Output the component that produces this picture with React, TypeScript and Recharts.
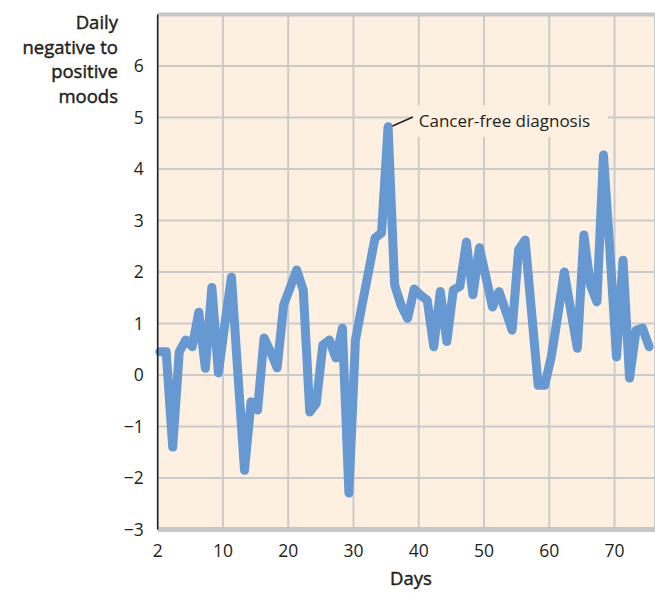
import { CartesianGrid, Line, LineChart, ReferenceArea, ReferenceDot, ReferenceLine, XAxis, YAxis } from "recharts";

// daily mood score, one value per day (index 0 = first day shown)
const MOODS = [
  0.45, 0.45, -1.4, 0.45, 0.68, 0.55, 1.22, 0.13, 1.7, 0.04,
  1.0, 1.9, 0.0, -1.85, -0.52, -0.68, 0.72, 0.45, 0.14, 1.36,
  1.7, 2.04, 1.65, -0.72, -0.55, 0.58, 0.68, 0.33, 0.91, -2.29,
  0.68, 1.35, 2.0, 2.66, 2.76, 4.82, 1.75, 1.35, 1.1, 1.67,
  1.55, 1.45, 0.55, 1.62, 0.65, 1.65, 1.72, 2.58, 1.56, 2.47,
  1.9, 1.32, 1.62, 1.25, 0.87, 2.43, 2.62, 1.2, -0.2, -0.2,
  0.35, 1.15, 2.0, 1.25, 0.52, 2.72, 1.75, 1.42, 4.27, 2.4,
  0.35, 2.23, -0.06, 0.87, 0.91, 0.55,
];

const X_TICKS = [-0.3, 9.7, 19.7, 29.7, 39.7, 49.7, 59.7, 69.7];
const X_LABELS = ["2", "10", "20", "30", "40", "50", "60", "70"];
const Y_TICKS = [-3, -2, -1, 0, 1, 2, 3, 4, 5, 6];

const FONT = "'Open Sans', sans-serif";
const INK = "#231f20";
const BG = "#fdf0e1";
const GRID = "#cbcbcb";

const data = MOODS.map((v, i) => ({ day: i, mood: v }));

// axis titles are a touch heavier than regular but lighter than bold
const titleStyle = {
  fontSize: 18.5,
  fontWeight: 400,
  color: INK,
  WebkitTextStroke: `0.45px ${INK}`,
} as const;

export default function App() {
  return (
    <div style={{ position: "absolute", left: 0, top: 0, width: 655, height: 593, background: "#fff", fontFamily: FONT }}>
      <div
        style={{
          ...titleStyle,
          position: "absolute",
          left: 0,
          top: 10,
          width: 118,
          textAlign: "right",
          lineHeight: "24.7px",
        }}
      >
        Daily
        <br />
        negative to
        <br />
        positive
        <br />
        moods
      </div>
      <LineChart width={655} height={593} data={data} margin={{ top: 14.5, right: 0, left: 97.7, bottom: 23.5 }}>
        <CartesianGrid fill={BG} stroke={GRID} strokeWidth={2} horizontalValues={[-2, -1, 0, 1, 2, 3, 4, 5, 6]} />
        <XAxis
          dataKey="day"
          type="number"
          domain={[-0.3, 75.9]}
          ticks={X_TICKS}
          tickFormatter={(v: number) => X_LABELS[X_TICKS.indexOf(v)]}
          height={40}
          tickSize={0}
          tickMargin={15}
          tick={{ fontSize: 17.5, fill: INK, fontFamily: FONT }}
          axisLine={{ stroke: "#c6c6c6", strokeWidth: 5 }}
          interval={0}
        />
        <YAxis
          type="number"
          domain={[-3, 7]}
          ticks={Y_TICKS}
          tickFormatter={(v: number) => (v < 0 ? "\u2212" + Math.abs(v) : String(v))}
          width={60}
          tickSize={0}
          tickMargin={14}
          tick={{ fontSize: 17.5, fill: INK, fontFamily: FONT }}
          axisLine={{ stroke: INK, strokeWidth: 1.5 }}
          interval={0}
        />
        <ReferenceLine y={7} stroke="#c6c6c6" strokeWidth={4} />
        <ReferenceArea x1={38.6} x2={68.7} y1={4.62} y2={5.24} fill={BG} fillOpacity={1} stroke="none" />
        <ReferenceLine
          segment={[
            { x: 35.6, y: 4.83 },
            { x: 38.8, y: 5.01 },
          ]}
          stroke={INK}
          strokeWidth={1.5}
        />
        <ReferenceDot
          x={39.7}
          y={4.81}
          r={0}
          shape={(p: any) => (
            <text x={p.cx} y={p.cy} fontSize={17} fill={INK} fontFamily={FONT}>
              Cancer-free diagnosis
            </text>
          )}
        />
        <Line
          type="linear"
          dataKey="mood"
          stroke="#6699d1"
          strokeWidth={9}
          strokeLinejoin="round"
          strokeLinecap="round"
          dot={false}
          activeDot={false}
          isAnimationActive={false}
        />
      </LineChart>
      <div
        style={{
          ...titleStyle,
          position: "absolute",
          left: 356,
          width: 110,
          top: 565,
          textAlign: "center",
        }}
      >
        Days
      </div>
    </div>
  );
}
